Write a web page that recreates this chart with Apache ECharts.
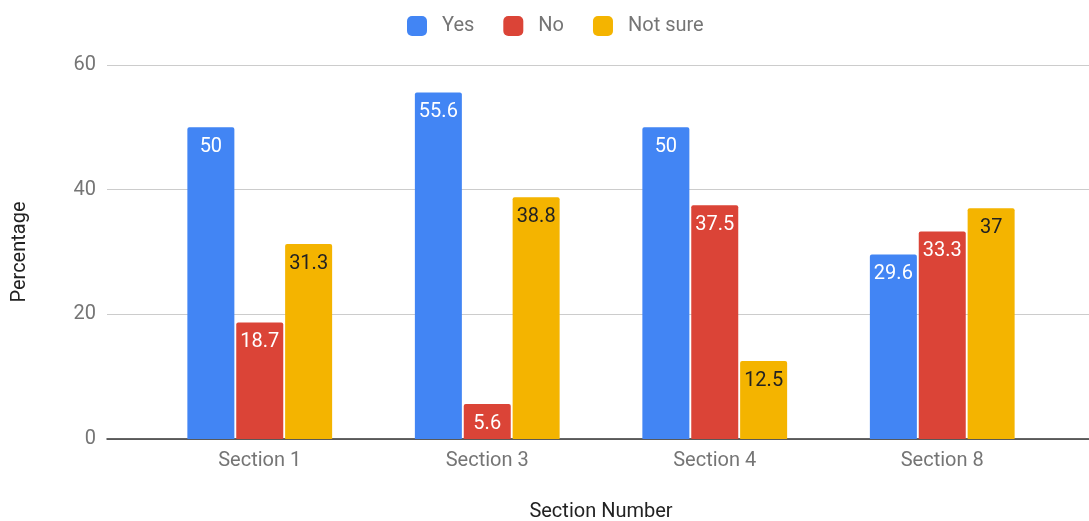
<!DOCTYPE html>
<html>
<head>
<meta charset="utf-8">
<script src="https://cdn.jsdelivr.net/npm/echarts@6/dist/echarts.min.js"></script>
<style>
  html, body { margin: 0; padding: 0; background: #fff; }
  #chart { width: 1089px; height: 521px; }
</style>
</head>
<body>
<div id="chart"></div>
<script>
// Survey answers per section, in percent
const categories = ['Section 1', 'Section 3', 'Section 4', 'Section 8'];
const yesValues = [50, 55.6, 50, 29.6];
const noValues = [18.7, 5.6, 37.5, 33.3];
const notSureValues = [31.3, 38.8, 12.5, 37];
const seriesNames = ['Yes', 'No', 'Not sure'];
const colors = ['#4285F4', '#DB4437', '#F4B400'];

const FONT = 'Roboto, "Noto Sans", sans-serif';
const GREY = '#757575';
const FS = 20;

const chart = echarts.init(document.getElementById('chart'), null, { renderer: 'canvas' });

function barSeries(name, data, color, labelColor) {
  return {
    name: name,
    type: 'bar',
    xAxisIndex: 1,
    yAxisIndex: 1,
    data: data,
    barWidth: 47,
    barGap: '4%',
    itemStyle: { color: color, borderRadius: [2, 2, 0, 0] },
    label: {
      show: true,
      position: 'insideTop',
      distance: 10,
      color: labelColor,
      fontFamily: FONT,
      fontSize: FS
    }
  };
}

chart.setOption({
  animation: false,
  color: colors,
  legend: {
    data: seriesNames,
    left: 402,
    top: 11,
    itemWidth: 20,
    itemHeight: 20,
    itemGap: 29,
    icon: 'roundRect',
    textStyle: { color: GREY, fontFamily: FONT, fontSize: FS, padding: [0, 0, 0, 10] }
  },
  grid: [
    // wide grid carries the value gridlines and baseline
    { left: 107, right: 0, top: 65, bottom: 82, outerBoundsMode: 'none' },
    // inner grid holds the category bands and bars
    { left: 146, right: 33, top: 65, bottom: 82, outerBoundsMode: 'none' }
  ],
  xAxis: [
    {
      gridIndex: 0,
      type: 'category',
      data: categories,
      axisLine: { show: true, lineStyle: { color: '#333', width: 1.5 } },
      axisTick: { show: false },
      axisLabel: { show: false }
    },
    {
      gridIndex: 1,
      type: 'category',
      data: categories,
      name: 'Section Number',
      nameLocation: 'middle',
      nameGap: 63,
      nameTextStyle: { color: '#222', fontFamily: FONT, fontSize: FS },
      axisLine: { show: false },
      axisTick: { show: false },
      axisLabel: { color: GREY, fontFamily: FONT, fontSize: FS, margin: 12 }
    }
  ],
  yAxis: [
    {
      gridIndex: 0,
      type: 'value',
      min: 0,
      max: 60,
      interval: 20,
      name: 'Percentage',
      nameLocation: 'middle',
      nameGap: 77,
      nameTextStyle: { color: '#222', fontFamily: FONT, fontSize: FS },
      axisLine: { show: false },
      axisTick: { show: false },
      axisLabel: { color: GREY, fontFamily: FONT, fontSize: FS, margin: 11 },
      splitLine: { lineStyle: { color: '#cccccc', width: 1 } }
    },
    {
      gridIndex: 1,
      type: 'value',
      min: 0,
      max: 60,
      interval: 20,
      show: false,
      splitLine: { show: false }
    }
  ],
  series: [
    barSeries(seriesNames[0], yesValues, colors[0], '#ffffff'),
    barSeries(seriesNames[1], noValues, colors[1], '#ffffff'),
    barSeries(seriesNames[2], notSureValues, colors[2], '#222222')
  ]
});
</script>
</body>
</html>
